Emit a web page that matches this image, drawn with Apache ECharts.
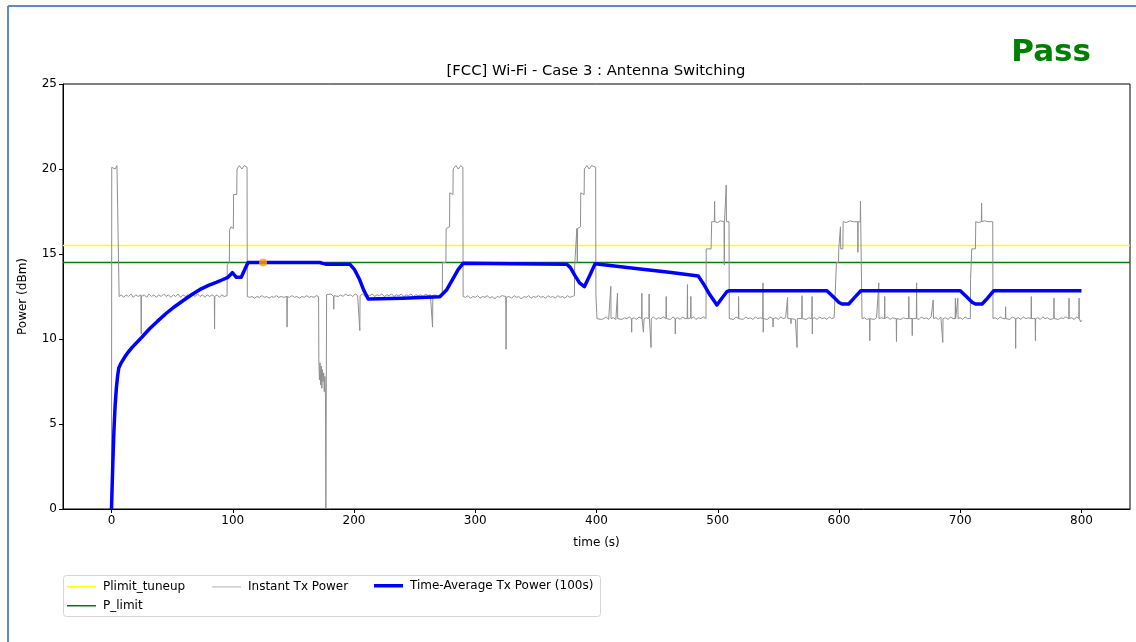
<!DOCTYPE html>
<html>
<head>
<meta charset="utf-8">
<script src="https://cdn.jsdelivr.net/npm/echarts@6/dist/echarts.min.js"></script>
<style>
html,body{margin:0;padding:0;background:#fff;}
#chart{width:1136px;height:642px;}
</style>
</head>
<body>
<div id="chart"></div>
<script>
// ---- data ----
const chartTitle = "[FCC] Wi-Fi - Case 3 : Antenna Switching";
const verdict = "Pass";
const xTicks = [0, 100, 200, 300, 400, 500, 600, 700, 800];
const xRange = [-40, 840];
const yRange = [0, 25];
const plimitTuneup = 15.5;
const pLimit = 14.5;
const markerPoint = [125, 14.5];

const instantPower = [
[0,0],[0.2,20.1],[1.5,20.2],[3,20.0],[4.5,20.2],[6,20.1],[6.3,12.5],
[8,12.6],[10,12.45],[12,12.6],[14,12.5],[16,12.65],[18,12.45],[20,12.6],[22,12.5],[24.3,12.6],[24.5,10.3],[24.7,12.5],[27,12.6],[29,12.45],[31,12.65],[33,12.5],[35,12.6],[37,12.45],[39,12.6],[41,12.5],[43,12.65],[45,12.5],[47,12.6],[49,12.45],[51,12.6],[53,12.5],[55,12.65],[57,12.45],[59,12.6],[61,12.5],[63,12.6],[65,12.45],[67,12.6],[69,12.5],[71,12.65],[73,12.5],[75,12.6],[77,12.45],[79,12.6],[81,12.5],[83,12.6],[84.8,12.5],[85,10.6],[85.2,12.5],[87,12.6],[89,12.45],[91,12.6],[93,12.5],[95.3,12.55],
[95.5,14.4],[97.2,14.5],[97.4,16.4],[98.5,16.6],[100.5,16.5],[100.7,18.5],[102,18.6],[103.3,18.5],[103.5,20.0],[105.5,20.2],[107.5,20.0],[109.5,20.2],[111.8,20.1],[112,12.5],
[114,12.45],[116,12.5],[118,12.4],[120,12.5],[122,12.45],[124,12.55],[126,12.45],[128,12.5],[130,12.4],[132,12.5],[134,12.45],[136,12.55],[138,12.45],[140,12.5],[142,12.45],[144.6,12.5],[144.8,10.7],[145,12.5],[147,12.45],[149,12.55],[151,12.45],[153,12.5],[155,12.4],[157,12.5],[159,12.45],[161,12.55],[163,12.45],[165,12.5],[167,12.45],[169,12.55],[170.8,12.5],
[171,8.8],[171.5,7.6],[172,8.6],[172.5,7.3],[173,8.4],[173.5,7.1],[174,8.2],[174.5,7.5],[175,8.0],[175.5,6.9],[176,7.8],[176.5,6.5],[176.8,0],[177.2,0],[177.4,12.6],
[179,12.5],[181,12.65],[183.1,12.5],[183.3,11.75],[183.5,12.55],[185,12.65],[187,12.5],[189,12.6],[191,12.5],[193,12.65],[195,12.55],[197,12.6],[199,12.5],[201,12.65],[203,12.55],[204.6,12.6],[204.8,10.5],[205,12.55],[207,12.65],[209,12.5],[211,12.6],[213,12.55],[215,12.65],[217,12.5],[219,12.6],[221,12.55],[223,12.65],[225,12.5],[227,12.6],[229,12.55],[231,12.65],[233,12.5],[235,12.6],[237,12.55],[239,12.65],[241,12.5],[243,12.6],[245,12.55],[247,12.65],[249,12.5],[251,12.6],[253,12.55],[255,12.6],[257,12.5],[259,12.65],[261,12.55],[263,12.6],[264.6,12.5],[264.8,10.7],[265,12.55],[267,12.6],[269,12.5],[271,12.6],[272.8,12.55],
[273,14.5],[275.8,14.5],[276,16.5],[278.8,16.6],[279,18.6],[281.6,18.5],[281.8,20.0],[284,20.2],[286,20.0],[288,20.2],[289.8,20.1],[290,12.5],
[292,12.45],[294,12.55],[296,12.4],[298,12.5],[300,12.45],[302,12.55],[304,12.4],[306,12.5],[308,12.45],[310,12.55],[312,12.4],[314,12.5],[316,12.35],[318,12.5],[320,12.45],[322,12.55],[325.2,12.5],[325.4,9.4],[325.6,12.45],[328,12.5],[330,12.4],[332,12.55],[334,12.45],[336,12.5],[338,12.35],[340,12.5],[342,12.45],[344,12.55],[346,12.4],[348,12.5],[350,12.45],[352,12.55],[354,12.45],[356,12.5],[358,12.4],[360,12.55],[362,12.45],[364,12.5],[366,12.4],[368,12.55],[370,12.45],[372,12.5],[374,12.4],[376,12.55],[378,12.45],[380,12.5],[381.8,12.55],
[382,14.3],[383.6,14.4],[383.8,16.5],[384.2,14.5],[384.4,16.5],[386.8,16.6],[387,18.6],[389.8,18.5],[390,20.0],[392,20.2],[394,20.0],[396,20.2],[399.3,20.1],[399.5,12.6],[400.2,12.6],[400.4,11.2],
[402,11.25],[404,11.15],[406,11.2],[408,11.3],[410,11.15],[411.6,11.2],[411.8,13.1],[412,11.2],[414,11.25],[416,11.15],[417.1,11.2],[417.3,12.7],[417.5,11.2],[419,11.3],[421,11.15],[423,11.25],[425,11.2],[427,11.3],[428.8,11.2],[429,10.4],[429.2,11.2],[431,11.25],[433,11.15],[435,11.3],[437.2,11.2],[437.4,12.7],[437.6,11.2],[438.5,11.1],[438.7,10.4],[439,10.9],[439.3,11.2],[441,11.25],[443.2,11.2],[443.4,12.65],[443.6,11.2],[444.8,11.2],[445,9.5],[445.2,11.2],[447,11.3],[449,11.15],[451,11.25],[453,11.2],[455,11.3],[457.3,11.2],[457.5,12.5],[457.7,11.2],[459,11.25],[461,11.15],[463,11.3],[464.8,11.2],[465,10.3],[465.2,11.2],[467,11.25],[469,11.15],[471,11.3],[473,11.2],[474.8,11.2],[475,13.2],[475.2,11.2],[477.6,11.25],[477.8,12.5],[478,11.2],[480,11.3],[482,11.15],[484,11.25],[486,11.2],[488,11.3],[490.3,11.2],
[490.5,15.3],[494.5,15.3],[495,16.9],[497.2,16.9],[497.4,18.1],[497.6,16.9],[500,16.85],[502,16.95],[505.2,16.9],[505.4,14.35],[505.6,16.9],[506.8,16.9],[507,19.06],[507.2,16.9],[509.3,16.9],[509.5,11.2],
[511,11.25],[513,11.15],[515,11.3],[517,11.2],[517.2,12.5],[517.4,11.2],[519,11.25],[521,11.15],[523,11.3],[525,11.2],[527,11.25],[529,11.15],[531,11.3],[533,11.2],[535,11.25],[537.1,11.2],[537.3,13.3],[537.5,10.4],[537.7,11.2],[539,11.25],[541,11.15],[543,11.3],[545.4,11.2],[545.6,10.7],[545.8,11.2],[548,11.25],[550,11.15],[552,11.3],[554,11.2],[556,11.25],[557.4,11.2],[557.6,12.45],[557.8,11.2],[560.2,11.2],[560.4,10.9],[560.6,11.2],[562,11.25],[564,11.15],[565.2,11.2],[565.4,9.5],[565.6,11.2],[567,11.25],[569.3,11.2],[569.5,12.55],[569.7,11.2],[571,11.3],[573,11.15],[575,11.25],[577.6,11.2],[577.8,12.5],[578,10.3],[578.2,11.2],[580,11.25],[582,11.15],[584,11.3],[586,11.2],[588,11.25],[590,11.15],[592,11.3],[594,11.2],[596,11.25],[597.6,11.2],
[597.9,14.5],[599.6,14.5],[599.8,15.3],[601,15.3],[601.2,16.6],[601.4,15.3],[603.2,15.3],[603.4,16.9],[606,16.85],[609,16.95],[612,16.9],[615.4,16.9],[615.6,15.1],[615.8,16.9],[617.5,16.9],[617.7,18.1],[617.9,16.9],[618.8,16.9],[619,11.2],
[621,11.25],[623,11.15],[625.2,11.2],[625.4,9.9],[625.6,11.2],[627,11.3],[629,11.15],[631,11.25],[632.6,11.2],[632.8,13.3],[633,11.2],[635,11.25],[637.5,11.2],[637.7,12.5],[637.9,11.2],[640,11.3],[642,11.15],[644,11.25],[645.5,11.2],[647.2,11.2],[647.4,9.85],[647.6,11.2],[649,11.3],[651,11.15],[653,11.25],[655,11.2],[657.4,11.2],[657.6,12.5],[657.8,11.2],[660.2,11.2],[660.4,10.2],[660.6,11.2],[662,11.25],[663.8,11.2],[664,13.3],[664.2,11.2],[666,11.15],[668,11.3],[670,11.2],[672,11.25],[674,11.15],[676,11.3],[677.5,11.2],[677.7,12.3],[677.9,11.2],[680,11.25],[682,11.15],[684,11.3],[685.4,11.2],[685.6,9.8],[685.8,11.2],[688,11.25],[690,11.15],[692,11.3],[694,11.2],[695.8,11.2],[696,12.4],[696.2,11.2],[697.8,11.2],[698,12.4],[698.2,11.2],[700,11.25],[702,11.15],[704,11.3],[706,11.2],[708.3,11.2],
[708.5,13.5],[709.3,13.5],[709.5,15.3],[712.5,15.3],[712.8,16.9],[715,16.85],[717.4,16.9],[717.6,18.0],[717.8,16.9],[720,16.95],[723,16.9],[726.8,16.9],[727,11.2],
[729,11.25],[731,11.15],[733,11.3],[735,11.2],[737.2,11.2],[737.4,11.9],[737.6,11.2],[739,11.25],[741,11.15],[743,11.3],[745.5,11.2],[745.7,9.45],[745.9,11.2],[748,11.25],[750,11.15],[752,11.3],[754,11.2],[756,11.25],[758.4,11.2],[758.6,12.5],[758.8,11.2],[761.8,11.2],[762,9.9],[762.2,11.2],[764,11.25],[766,11.15],[768,11.3],[770,11.2],[772,11.25],[774,11.15],[777.1,11.2],[777.3,12.4],[777.5,11.2],[779,11.3],[781,11.15],[783,11.25],[785,11.2],[787,11.3],[789.5,11.2],[789.7,12.4],[789.9,11.2],[792,11.25],[794,11.15],[796,11.3],[797.8,11.2],[798,12.4],[798.2,11.2],[799.3,11.0],[800,11.1]
];

const timeAvgPower = [
[0,0],[1,2.5],[2,4.6],[3,6.1],[4,7.1],[5,7.8],[6,8.3],[8,8.6],[11,8.95],[14,9.25],[17.6,9.55],[25,10.1],[31.4,10.6],[38,11.05],[45,11.5],[52,11.9],[58.9,12.25],[66,12.6],[72.7,12.9],[80,13.15],[86.4,13.33],[92,13.5],[96,13.63],[99.7,13.9],[103,13.63],[107,13.63],[110,14.1],[112.6,14.5],
[140,14.5],[171.8,14.5],[174,14.45],[177.3,14.4],[196.5,14.4],[200.6,14.06],[204.8,13.47],[208,12.88],[211.7,12.35],[240,12.4],[270.8,12.49],[276.3,12.88],[281.8,13.57],[286,14.1],[290,14.45],
[330,14.43],[375.5,14.4],[378.5,14.2],[382,13.76],[386,13.3],[390,13.08],[394.6,13.76],[398.8,14.42],[420,14.25],[436,14.12],[460,13.92],[484,13.7],[488,13.27],[493.5,12.6],[499.3,12.0],[503.4,12.4],[507.5,12.78],[509.7,12.84],
[550,12.84],[590,12.84],[595.7,12.45],[600,12.15],[602.5,12.06],[608,12.06],[613.5,12.49],[618,12.84],[660,12.84],[700,12.84],[705,12.5],[710,12.15],[712.6,12.06],[718,12.06],[722.5,12.4],[727.7,12.84],[760,12.84],[800,12.84]
];

// ---- chart ----
const FONT = "DejaVu Sans";
const chart = echarts.init(document.getElementById('chart'), null, {renderer: 'canvas'});
const legendText = {fontFamily: FONT, fontSize: 12, color: '#000', padding: [0, 0, 0, 2]};
function mkLegend(name, left, top, h) {
  return {data: [name], left: left, top: top - h / 2, icon: 'rect', itemWidth: 29, itemHeight: h, padding: 0,
    textStyle: legendText, selectedMode: false};
}
chart.setOption({
  animation: false,
  backgroundColor: '#fff',
  textStyle: {fontFamily: FONT},
  grid: {left: 63, right: 6, top: 84, bottom: 133, show: true, borderColor: '#000', borderWidth: 1, backgroundColor: 'transparent'},
  xAxis: {
    type: 'value', min: xRange[0], max: xRange[1],
    name: 'time (s)', nameLocation: 'middle', nameGap: 28,
    nameTextStyle: {fontFamily: FONT, fontSize: 12, color: '#000'},
    axisLine: {show: true, onZero: false, lineStyle: {color: '#000', width: 1}},
    axisTick: {show: true, length: 4, lineStyle: {color: '#000'}, customValues: xTicks},
    axisLabel: {fontFamily: FONT, fontSize: 12, color: '#000', margin: 6, customValues: xTicks},
    splitLine: {show: false}
  },
  yAxis: {
    type: 'value', min: yRange[0], max: yRange[1], interval: 5,
    name: 'Power (dBm)', nameLocation: 'middle', nameGap: 34, nameRotate: 90,
    nameTextStyle: {fontFamily: FONT, fontSize: 12, color: '#000'},
    axisLine: {show: true, onZero: false, lineStyle: {color: '#000', width: 1}},
    axisTick: {show: true, length: 4, lineStyle: {color: '#000'}},
    axisLabel: {fontFamily: FONT, fontSize: 12, color: '#000', margin: 6},
    splitLine: {show: false}
  },
  legend: [
    mkLegend('Plimit_tuneup', 67, 581.5, 1.5),
    mkLegend('Instant Tx Power', 212, 581.5, 1.2),
    mkLegend('Time-Average Tx Power (100s)', 374, 581.5, 3.5),
    mkLegend('P_limit', 67, 600.5, 1.5)
  ],
  graphic: [
    {type: 'line', shape: {x1: 8, y1: 6, x2: 1136, y2: 6}, style: {stroke: '#5b8bd0', lineWidth: 2}, silent: true},
    {type: 'line', shape: {x1: 8, y1: 6, x2: 8, y2: 642}, style: {stroke: '#5b8bd0', lineWidth: 2}, silent: true},
    {type: 'rect', shape: {x: 63.5, y: 575.5, width: 537, height: 41, r: 3}, style: {fill: 'none', stroke: '#d6d6d6', lineWidth: 1}, silent: true},
    {type: 'text', x: 596, y: 71, style: {text: chartTitle, font: '14.8px "DejaVu Sans"', fill: '#000', textAlign: 'center', textVerticalAlign: 'middle'}, silent: true},
    {type: 'text', x: 1091, y: 53, style: {text: verdict, font: 'bold 31px "DejaVu Sans"', fill: '#008000', textAlign: 'right', textVerticalAlign: 'middle'}, silent: true}
  ],
  series: [
    {name: 'Plimit_tuneup', type: 'line', symbol: 'none', silent: true,
     data: [[xRange[0], plimitTuneup], [xRange[1], plimitTuneup]],
     lineStyle: {color: '#ffff00', width: 1.5}, itemStyle: {color: '#ffff00'}, z: 2},
    {name: 'P_limit', type: 'line', symbol: 'none', silent: true,
     data: [[xRange[0], pLimit], [xRange[1], pLimit]],
     lineStyle: {color: '#008000', width: 1.5}, itemStyle: {color: '#008000'}, z: 3},
    {name: 'Instant Tx Power', type: 'line', symbol: 'none', silent: true,
     data: instantPower,
     lineStyle: {color: '#8f8f8f', width: 1}, itemStyle: {color: '#bdbdbd'}, z: 4},
    {name: 'Time-Average Tx Power (100s)', type: 'line', symbol: 'none', silent: true,
     data: timeAvgPower,
     lineStyle: {color: '#0000ff', width: 3.5, join: 'round'}, itemStyle: {color: '#0000ff'}, z: 5},
    {name: 'marker', type: 'scatter', symbol: 'circle', symbolSize: 8, silent: true,
     data: [markerPoint], itemStyle: {color: '#ffa500'}, z: 6}
  ]
});
</script>
</body>
</html>
